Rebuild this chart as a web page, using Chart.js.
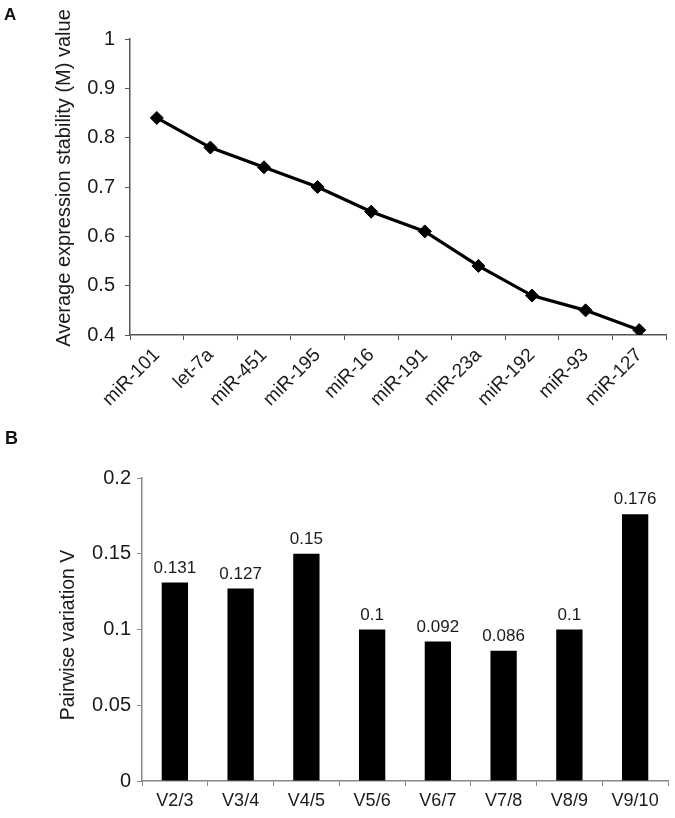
<!DOCTYPE html>
<html>
<head>
<meta charset="utf-8">
<script src="https://cdn.jsdelivr.net/npm/chart.js@4"></script>
<style>
  html, body { margin: 0; padding: 0; background: #fff; }
  body { width: 675px; height: 818px; position: relative; overflow: hidden; font-family: "Liberation Sans", Arial, sans-serif; }
  .panel-label { position: absolute; font-weight: bold; color: #111; }
  #labelA { left: 4px; top: 5px; font-size: 17px; }
  #labelB { left: 5px; top: 428px; font-size: 18px; }
  #wrapA { position: absolute; left: 0; top: 0; width: 675px; height: 420px; }
  #wrapB { position: absolute; left: 0; top: 400px; width: 675px; height: 418px; }
</style>
</head>
<body>
<div id="wrapA"><canvas id="chartA"></canvas></div>
<div id="wrapB"><canvas id="chartB"></canvas></div>
<div class="panel-label" id="labelA">A</div>
<div class="panel-label" id="labelB">B</div>
<script>
'use strict';

/* ---- Data: panel A (geNorm M values) ---- */
const mirNames  = ['miR-101', 'let-7a', 'miR-451', 'miR-195', 'miR-16', 'miR-191', 'miR-23a', 'miR-192', 'miR-93', 'miR-127'];
const mValues   = [0.84, 0.78, 0.74, 0.70, 0.65, 0.61, 0.54, 0.48, 0.45, 0.41];

/* ---- Data: panel B (pairwise variation) ---- */
const pairNames = ['V2/3', 'V3/4', 'V4/5', 'V5/6', 'V6/7', 'V7/8', 'V8/9', 'V9/10'];
const pairV     = [0.131, 0.127, 0.15, 0.1, 0.092, 0.086, 0.1, 0.176];
const pairText  = ['0.131', '0.127', '0.15', '0.1', '0.092', '0.086', '0.1', '0.176'];

const FONT = '"Liberation Sans", Arial, sans-serif';
const TEXT = '#1a1a1a';

Chart.defaults.font.family = FONT;
Chart.defaults.color = TEXT;
Chart.defaults.animation = false;

/* Force axis box sizes so the plot areas land where the figure has them */
function fixWidth(w)  { return scale => { scale.width = w; }; }
function fixHeight(h) { return scale => { scale.height = h; }; }

/* Excel-style tick text: 1, 0.9, 0.15 (no padded zeros) */
const plainTick = v => String(+Number(v).toFixed(3));

/* Value labels above bars */
const barValueLabels = {
  id: 'barValueLabels',
  afterDatasetsDraw(chart) {
    const { ctx } = chart;
    const meta = chart.getDatasetMeta(0);
    ctx.save();
    ctx.font = '17px ' + FONT;
    ctx.fillStyle = TEXT;
    ctx.textAlign = 'center';
    ctx.textBaseline = 'alphabetic';
    meta.data.forEach((bar, i) => {
      ctx.fillText(pairText[i], bar.x, bar.y - 10);
    });
    ctx.restore();
  },
};

/* Rotated y title — the figure's titles sit a bit off the axis centre,
   so draw them ourselves instead of using scale.title */
const sideTitle = {
  id: 'sideTitle',
  afterDraw(chart, args, opts) {
    const { ctx } = chart;
    ctx.save();
    ctx.translate(opts.x, opts.y);
    ctx.rotate(-Math.PI / 2);
    ctx.font = `${opts.size}px ${FONT}`;
    ctx.fillStyle = TEXT;
    ctx.textAlign = 'center';
    ctx.textBaseline = 'alphabetic';
    ctx.fillText(opts.text, 0, 0);
    ctx.restore();
  },
};

/* ============================================================
   Panel A — line chart
   ============================================================ */
new Chart(document.getElementById('chartA'), {
  type: 'line',
  data: {
    labels: mirNames,
    datasets: [{
      data: mValues,
      borderColor: '#000',
      backgroundColor: '#000',
      borderWidth: 3.2,
      tension: 0,
      pointStyle: 'rectRot',
      pointRadius: 6.5,
      pointBackgroundColor: '#000',
      pointBorderColor: '#000',
      pointBorderWidth: 1,
    }],
  },
  options: {
    responsive: true,
    maintainAspectRatio: false,
    layout: { padding: { top: 39, right: 9, left: 0, bottom: 0 } },
    plugins: {
      legend: { display: false },
      tooltip: { enabled: false },
      sideTitle: { text: 'Average expression stability (M) value', size: 20, x: 69.5, y: 178 },
    },
    scales: {
      x: {
        type: 'category',
        offset: true,
        grid: { offset: true, drawOnChartArea: false, color: '#555', tickLength: 5 },
        border: { color: '#555', width: 1.5 },
        ticks: { minRotation: 45, maxRotation: 45, padding: 4, font: { size: 19 }, color: TEXT },
        afterFit: fixHeight(85),
      },
      y: {
        min: 0.4,
        max: 1,
        ticks: { stepSize: 0.1, padding: 10, font: { size: 20 }, color: TEXT, callback: plainTick },
        grid: { drawOnChartArea: false, color: '#555', tickLength: 5 },
        border: { color: '#555', width: 1.5 },
        afterFit: fixWidth(130),
      },
    },
  },
  plugins: [sideTitle],
});

/* ============================================================
   Panel B — bar chart
   ============================================================ */
new Chart(document.getElementById('chartB'), {
  type: 'bar',
  data: {
    labels: pairNames,
    datasets: [{
      data: pairV,
      backgroundColor: '#000',
      borderWidth: 0,
      categoryPercentage: 1,
      barPercentage: 0.4,
    }],
  },
  options: {
    responsive: true,
    maintainAspectRatio: false,
    layout: { padding: { top: 78, right: 7, left: 0, bottom: 0 } },
    plugins: {
      legend: { display: false },
      tooltip: { enabled: false },
      sideTitle: { text: 'Pairwise variation V', size: 19.4, x: 73.5, y: 235 },
    },
    scales: {
      x: {
        grid: { offset: true, drawOnChartArea: false, color: '#888', tickLength: 5 },
        border: { color: '#888', width: 1.5 },
        ticks: { padding: 4, font: { size: 18 }, color: TEXT },
        afterFit: fixHeight(37),
      },
      y: {
        min: 0,
        max: 0.2,
        ticks: { stepSize: 0.05, padding: 6, font: { size: 20 }, color: TEXT, callback: plainTick },
        grid: { drawOnChartArea: false, color: '#888', tickLength: 5 },
        border: { color: '#888', width: 1.5 },
        afterFit: fixWidth(142),
      },
    },
  },
  plugins: [barValueLabels, sideTitle],
});
</script>
</body>
</html>
